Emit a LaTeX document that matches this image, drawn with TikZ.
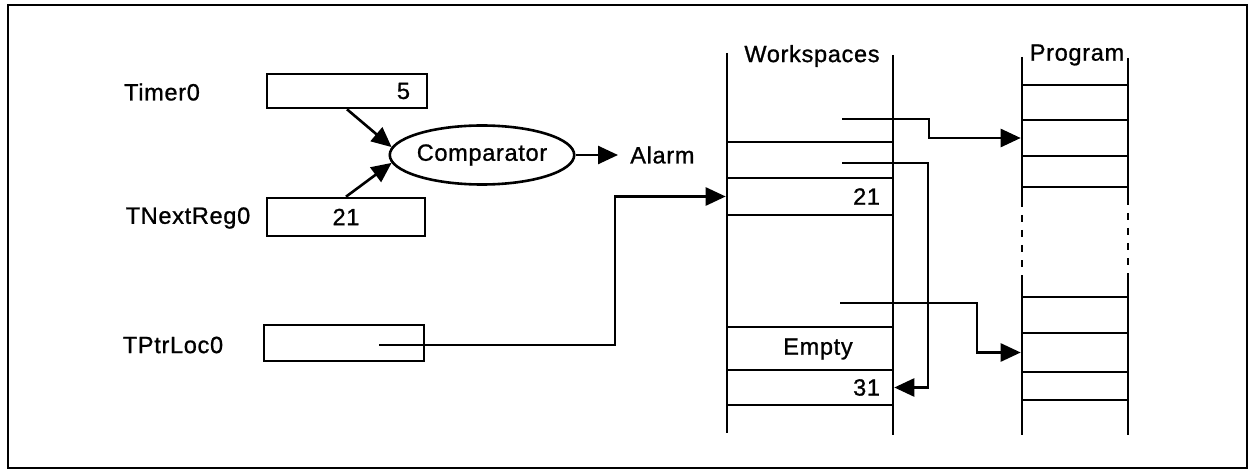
\documentclass[tikz,border=0pt]{standalone}
\usepackage{fontspec}
\setmainfont{Liberation Sans}[LetterSpace=3,FakeBold=1]
\usetikzlibrary{arrows.meta,shapes.geometric}
\begin{document}
\begin{tikzpicture}[x=1pt,y=-1pt, line width=2.6pt,
  every node/.style={font=\fontsize{23.5}{26}\selectfont},
  lbl/.style={inner sep=0pt},
  box/.style={draw, rectangle, inner sep=0pt},
  cell/.style={draw, rectangle, inner sep=0pt, minimum width=166pt},
  pcell/.style={draw, rectangle, inner sep=0pt, minimum width=106pt},
  arr/.style={-{Triangle[length=20pt,width=18pt]}},
  brk/.style={dash pattern=on 7pt off 8pt},
]
\useasboundingbox (0,0) rectangle (1253,473);
\draw[line width=1.8pt] (8,5) rectangle (1247,468);

% registers
\node[lbl] (tlab) at (162,92) {Timer0};
\node[box, minimum height=34pt, text width=126pt, align=right, inner xsep=17pt] (timer) at (347,91) {5};
\node[lbl] (nlab) at (188,218) {TNextReg0};
\node[box, minimum width=158pt, minimum height=38pt] (next) at (346,217) {21};
\node[lbl] (plab) at (173,345) {TPtrLoc0};
\node[box, minimum width=160pt, minimum height=36pt] (ptr) at (344,343) {};
\coordinate (pstart) at (379,345);

% comparator
\node[draw, ellipse, minimum width=184pt, minimum height=59pt, inner sep=0pt] (cmp) at (482,155) {Comparator};
\node[lbl, anchor=west] (alarm) at (629,155) {Alarm};
\draw[arr] (timer.south) -- (cmp.175);
\draw[arr] (next.north) -- (cmp.185);
\draw[arr, shorten >=11pt] (cmp.east) -- (alarm.west);

% workspaces
\node[lbl] (wslab) at (812,56) {Workspaces};
\draw (727,53) -- (727,433);
\draw (893,55) -- (893,435);
\node[cell, minimum height=36pt] (w1) at (810,160) {};
\node[cell, minimum height=37pt, text width=140pt, align=right] (w21) at (810,196.5) {21};
\node[cell, minimum height=43pt] (wE) at (810,348.5) {};
\node[lbl] (wEt) at (818,349) {Empty};
\node[cell, minimum height=35pt, text width=140pt, align=right] (w31) at (810,387.5) {31};

% program
\node[lbl] (prlab) at (1077,55) {Program};
\draw (1022,57) -- (1022,200);
\draw[brk] (1022,200) -- (1022,277);
\draw (1022,277) -- (1022,435);
\draw (1128,58) -- (1128,198);
\draw[brk] (1128,198) -- (1128,275);
\draw (1128,275) -- (1128,435);
\node[pcell, minimum height=35pt] (p1) at (1075,102.5) {};
\node[pcell, minimum height=36pt] (p2) at (1075,138) {};
\node[pcell, minimum height=31pt] (p3) at (1075,171.5) {};
\node[pcell, minimum height=36pt] (p4) at (1075,315) {};
\node[pcell, minimum height=39pt] (p5) at (1075,352.5) {};
\node[pcell, minimum height=28pt] (p6) at (1075,386) {};

% pointers
\coordinate (s1) at (842,119);
\coordinate (s2) at (842,163);
\coordinate (s3) at (840,303);
\draw[arr] (s1) -- (929,119) |- (p2.west);
\draw[arr] (s2) -- (928,163) |- (w31.east);
\draw[arr] (s3) -- (977,303) |- (p5.west);
\draw[arr] (pstart) -- (615,345) |- (w21.west);
\end{tikzpicture}
\end{document}
